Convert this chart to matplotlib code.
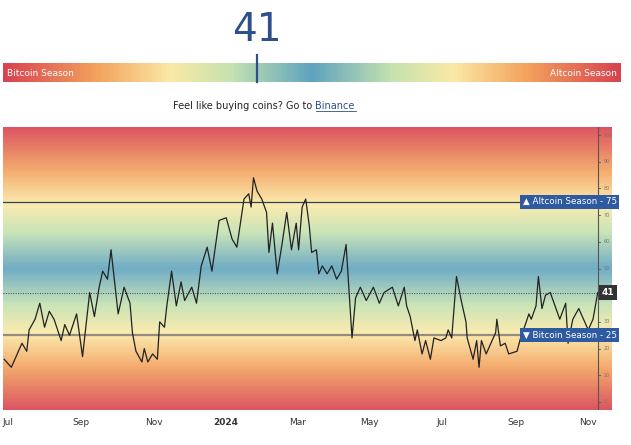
import numpy as np
import matplotlib
matplotlib.use("Agg")
import matplotlib.pyplot as plt
from matplotlib.colors import LinearSegmentedColormap
import datetime as dt

current_index = 41
altcoin_level = 75
bitcoin_level = 25
start_date = dt.date(2023, 7, 1)
days = [-3,3,8,12,16,18,23,27,31,35,39,45,48,52,58,63,69,73,77,80,84,87,92,93,98,103,105,108,113,115,118,122,126,128,132,134,138,142,146,149,155,159,163,168,172,178,184,189,193,199,203,205,207,210,214,218,220,223,227,231,235,239,243,245,248,251,254,256,260,262,265,269,273,277,281,285,287,290,293,297,302,308,313,317,324,329,334,336,339,343,345,349,352,356,359,365,369,371,374,378,382,386,387,392,395,397,399,403,407,411,412,415,419,422,429,432,436,439,441,445,447,450,453,457,461,465,470,472,476,481,485,489,493,497]
values = [16,13,18,22,19,27,31,37,28,34,31,23,29,25,33,17,41,32,43,49,46,57,37,33,43,37,26,19,15,20,15,18,16,30,28,36,49,36,45,38,43,37,51,58,49,68,69,61,58,76,78,73,84,79,76,71,56,67,48,59,71,57,67,57,73,76,66,56,57,48,51,48,51,46,49,59,45,24,39,43,38,43,37,41,43,36,43,36,32,23,27,18,23,16,24,23,24,27,24,47,38,30,24,16,23,13,23,18,22,26,31,21,22,18,19,24,29,33,31,36,47,35,40,41,36,31,37,22,31,35,31,27,31,41]
month_ticks = ["2023-07-01","2023-09-01","2023-11-01","2024-01-01","2024-03-01","2024-05-01","2024-07-01","2024-09-01","2024-11-01"]
month_labels = ["Jul","Sep","Nov","2024","Mar","May","Jul","Sep","Nov"]

cmap = LinearSegmentedColormap.from_list("season", [
    (0.0, "#d9434f"), (0.15, "#f3a25d"), (0.27, "#fbe9a6"), (0.37, "#c5e2b0"),
    (0.5, "#5fa3bf"), (0.63, "#c5e2b0"), (0.73, "#fbe9a6"), (0.85, "#f3a25d"), (1.0, "#d9434f")])

W, H = 631, 445
fig = plt.figure(figsize=(W/100, H/100), dpi=100)

# top gauge
bx = fig.add_axes([3/W, 1-82/H, 618/W, 19/H])
bx.imshow(np.linspace(0, 1, 400)[None, :], cmap=cmap, aspect="auto", extent=[0, 100, 0, 1])
bx.set_xlim(0, 100); bx.set_ylim(0, 1); bx.axis("off")
bx.text(0.6, 0.45, "Bitcoin Season", color="white", fontsize=6.5, va="center", ha="left")
bx.text(99.4, 0.45, "Altcoin Season", color="white", fontsize=6.5, va="center", ha="right")
fig.add_artist(plt.Line2D([257/W, 257/W], [1-82/H, 1-55/H], color="#2d4f8a", lw=1.6))
fig.text(257/W, 1-30/H, str(current_index), fontsize=28, color="#2d4f8a", ha="center", va="center")
fig.text(0.5, 1-106/H, "Feel like buying coins? Go to ", fontsize=7, ha="right", va="center", color="#222")
fig.text(0.5, 1-106/H, "Binance", fontsize=7, ha="left", va="center", color="#2d4f8a")
fig.add_artist(plt.Line2D([0.5, 0.5+40/W], [1-111/H, 1-111/H], color="#2d4f8a", lw=0.6))

# main chart
ax = fig.add_axes([3/W, 1-410/H, 609/W, 283/H])
dates = [np.datetime64(start_date) + np.timedelta64(d, "D") for d in days]
x0 = np.datetime64(start_date) - np.timedelta64(4, "D")
x1 = np.datetime64(start_date) + np.timedelta64(509, "D")
axis_x = np.datetime64(start_date) + np.timedelta64(497, "D")
ax.set_xlim(x0, x1); ax.set_ylim(-3, 103)
xn = matplotlib.dates.date2num([x0, x1])
ax.imshow(np.linspace(0, 1, 300)[:, None], cmap=cmap, aspect="auto", origin="lower",
          extent=[xn[0], xn[1], 0 - 3, 103], alpha=0.9, zorder=0)
ax.axhline(altcoin_level, color="#333f55", lw=0.9, zorder=1)
ax.axhline(bitcoin_level, color="#777777", lw=1.6, alpha=0.8, zorder=1)
ax.axhline(current_index, color="#444", lw=0.7, ls=(0, (1, 1.5)), zorder=1)
ax.plot(dates, values, color="#222222", lw=0.9, zorder=3)
ax.axvline(axis_x, color="#555", lw=0.8, zorder=2)
for t in range(0, 101, 10):
    ax.plot([axis_x, axis_x + np.timedelta64(2, "D")], [t, t], color="#555", lw=0.6, zorder=2)
    if abs(t - current_index) > 3:
        ax.text(axis_x + np.timedelta64(5, "D"), t, str(t), fontsize=3.5, color="#777", va="center")
for sp in ax.spines.values():
    sp.set_visible(False)
ax.set_yticks([])
ax.set_xticks([np.datetime64(d) for d in month_ticks])
ax.set_xticklabels(month_labels, fontsize=6.5, color="#333")
ax.get_xticklabels()[3].set_fontweight("bold")
ax.tick_params(axis="x", length=0, pad=6)

box = dict(boxstyle="square,pad=0.3", fc="#2d5aa0", ec="none")
lab_x = axis_x + np.timedelta64(16, "D")
ax.text(lab_x, altcoin_level, "\u25b2 Altcoin Season - 75", fontsize=6.3, color="white",
        ha="right", va="center", bbox=box, zorder=5)
ax.text(lab_x, bitcoin_level, "\u25bc Bitcoin Season - 25", fontsize=6.3, color="white",
        ha="right", va="center", bbox=box, zorder=5)
ax.text(axis_x + np.timedelta64(3, "D"), current_index, "41", fontsize=6.5, color="white",
        ha="left", va="center", bbox=dict(boxstyle="square,pad=0.3", fc="#333", ec="none"),
        zorder=5, fontweight="bold")

fig.savefig("out.png", dpi=100)
